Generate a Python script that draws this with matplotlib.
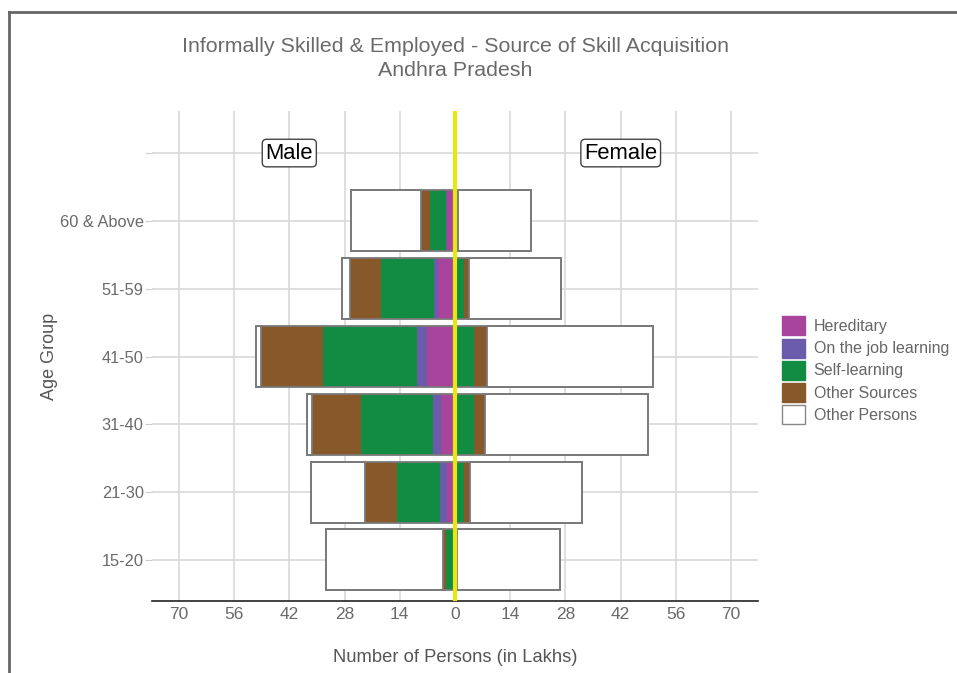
import matplotlib
matplotlib.use("Agg")
import matplotlib.pyplot as plt
from matplotlib.patches import Patch
from matplotlib.lines import Line2D
import numpy as np

plt.rcParams['font.family'] = ['Liberation Sans', 'DejaVu Sans']

age_groups = ["15-20", "21-30", "31-40", "41-50", "51-59", "60 & Above"]
sources = ["Hereditary", "On the job learning", "Self-learning", "Other Sources"]
colors = ["#A8449B", "#6A5CAA", "#128B43", "#86582A"]

male_hereditary = [0.4, 2.1, 3.6, 7.2, 4.2, 2.1]
male_onjob = [0.1, 1.7, 2.0, 2.5, 1.0, 0.1]
male_self = [1.7, 11.0, 18.2, 23.7, 13.6, 4.2]
male_other_src = [0.8, 7.9, 12.4, 15.8, 7.8, 2.1]
male_total = [32.7, 36.6, 37.4, 50.5, 28.6, 26.4]

female_hereditary = [0.1, 0.3, 0.4, 0.4, 0.5, 0.4]
female_onjob = [0.0, 0.1, 0.1, 0.1, 0.1, 0.1]
female_self = [0.3, 1.9, 4.2, 4.3, 1.6, 0.2]
female_other_src = [0.1, 1.4, 2.9, 3.2, 1.3, 0.1]
female_total = [26.5, 32.1, 48.8, 50.3, 26.8, 19.2]

xticks = [-70, -56, -42, -28, -14, 0, 14, 28, 42, 56, 70]
xticklabels = ["70", "56", "42", "28", "14", "0", "14", "28", "42", "56", "70"]

fig = plt.figure(figsize=(9.57, 6.73), dpi=100)
ax = fig.add_axes([152/957, 1-601/673, (758-152)/957, (601-111)/673])

y = np.arange(len(age_groups))
h = 0.9
edge = "#7a7a7a"

for side, series, total in [
    (-1, [male_hereditary, male_onjob, male_self, male_other_src], male_total),
    (1, [female_hereditary, female_onjob, female_self, female_other_src], female_total),
]:
    left = np.zeros(len(y))
    for vals, c in zip(series, colors):
        v = np.array(vals)
        ax.barh(y, side * v, left=side * left, height=h, color=c, edgecolor="none", zorder=3)
        left = left + v
    rest = np.array(total) - left
    ax.barh(y, side * rest, left=side * left, height=h, color="white", edgecolor=edge,
            linewidth=1.3, zorder=3)
    ax.barh(y, side * np.array(total), height=h, facecolor="none", edgecolor=edge,
            linewidth=1.3, zorder=4)

ax.axvline(0, color="#E8E810", linewidth=3, zorder=5)

ax.set_xlim(-76.8, 76.8)
ax.set_ylim(-0.605, 6.62)
ax.set_xticks(xticks)
ax.set_xticklabels(xticklabels)
ax.set_yticks(list(y) + [6])
ax.set_yticklabels(age_groups + [""])
ax.grid(True, color="#d9d9d9", linewidth=1.2, zorder=0)
ax.set_axisbelow(True)
for s in ["top", "right", "left"]:
    ax.spines[s].set_visible(False)
ax.spines["bottom"].set_color("#222222")
ax.spines["bottom"].set_linewidth(1.2)
ax.tick_params(axis="x", length=0, pad=4, labelsize=12.5, labelcolor="#6a6a6a")
ax.tick_params(axis="y", length=5, color="#cccccc", pad=1, labelsize=11.8, labelcolor="#6a6a6a")

ax.text(-42, 6, "Male", ha="center", va="center", fontsize=15.8, color="black", zorder=6,
        bbox=dict(boxstyle="round,pad=0.15,rounding_size=0.2", fc="white", ec="#444444", lw=1))
ax.text(42, 6, "Female", ha="center", va="center", fontsize=15.8, color="black", zorder=6,
        bbox=dict(boxstyle="round,pad=0.15,rounding_size=0.2", fc="white", ec="#444444", lw=1))

fig.text(455/957, 1-47/673, "Informally Skilled & Employed - Source of Skill Acquisition",
         ha="center", va="center", fontsize=15.4, color="#6a6a6a")
fig.text(455/957, 1-71/673, "Andhra Pradesh", ha="center", va="center", fontsize=15.4, color="#6a6a6a")
fig.text(455/957, 1-657/673, "Number of Persons (in Lakhs)", ha="center", va="center",
         fontsize=13.2, color="#555555")
fig.text(50/957, 1-356/673, "Age Group", ha="center", va="center", rotation=90,
         fontsize=13, color="#555555")

handles = [Patch(facecolor=c, edgecolor=c) for c in colors] + [Patch(facecolor="white", edgecolor="#888888")]
labels = sources + ["Other Persons"]
fig.legend(handles, labels, loc="upper left", bbox_to_anchor=(776/957, 1-310/673),
           frameon=False, fontsize=11.5, handlelength=1.4, handleheight=1.45,
           labelspacing=0.2, handletextpad=0.55, borderaxespad=0, labelcolor="#666666")

fig.add_artist(Line2D([9/957, 9/957], [0, 1-12/673], transform=fig.transFigure, color="#666666", lw=2))
fig.add_artist(Line2D([9/957, 1], [1-12/673, 1-12/673], transform=fig.transFigure, color="#666666", lw=2))

fig.savefig("out.png", dpi=100)
